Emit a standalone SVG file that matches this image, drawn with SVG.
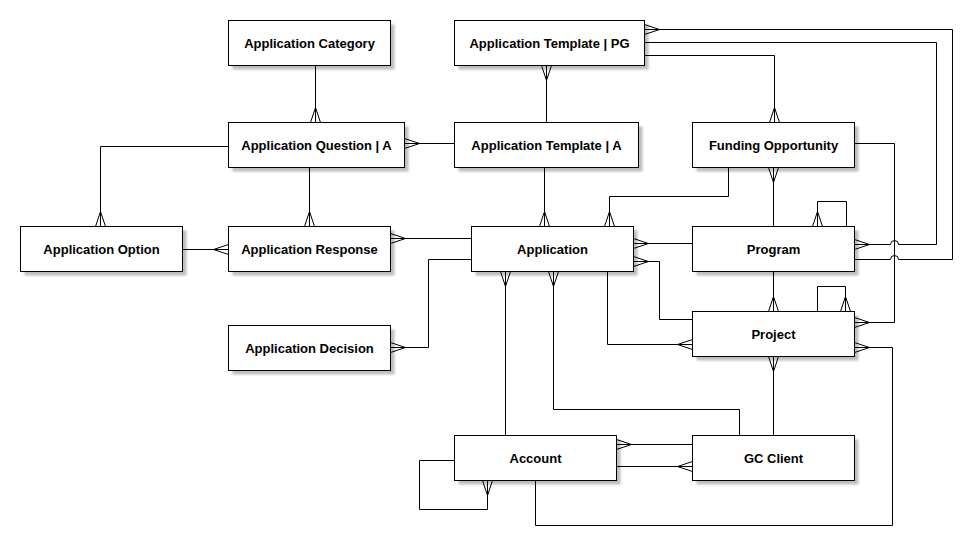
<svg xmlns="http://www.w3.org/2000/svg" width="978" height="546" viewBox="0 0 978 546">
  <style>
    .box rect.body { fill: #fff; stroke: #000; stroke-width: 1; }
    .box rect.shadow { fill: #bdbdbd; filter: url(#soft); }
    .box text { font-family: "Liberation Sans", Arial, sans-serif; font-size: 13px; font-weight: bold; fill: #000; text-anchor: middle; }
    #connectors path { fill: none; stroke: #000; stroke-width: 1; }
    #connectors path.many { marker-end: url(#crow); }
  </style>
  <defs>
    <filter id="soft" x="-10%" y="-20%" width="120%" height="140%">
      <feGaussianBlur stdDeviation="0.8"/>
    </filter>
    <!-- crow's foot: "many" end of a relationship -->
    <marker id="crow" markerUnits="userSpaceOnUse" viewBox="-16 -7 20 14" markerWidth="20" markerHeight="14" refX="0" refY="0" orient="auto" overflow="visible">
      <path d="M-15 0 L0 -5 M-15 0 L0 5" fill="none" stroke="#000" stroke-width="1"/>
    </marker>
  </defs>
  <rect width="978" height="546" fill="#fff"/>

  <!-- entities -->
  <g id="application-category" class="box">
    <rect class="shadow" x="232.5" y="24.5" width="162" height="45"/>
    <rect class="body" x="228.5" y="20.5" width="162" height="45"/>
    <text x="309.5" y="47.5">Application Category</text>
  </g>
  <g id="application-template-pg" class="box">
    <rect class="shadow" x="458.5" y="24.5" width="190" height="45"/>
    <rect class="body" x="454.5" y="20.5" width="190" height="45"/>
    <text x="549.5" y="47.5">Application Template | PG</text>
  </g>
  <g id="application-question-a" class="box">
    <rect class="shadow" x="232.5" y="126.5" width="176" height="45"/>
    <rect class="body" x="228.5" y="122.5" width="176" height="45"/>
    <text x="316.5" y="149.5">Application Question | A</text>
  </g>
  <g id="application-template-a" class="box">
    <rect class="shadow" x="458.5" y="126.5" width="184" height="45"/>
    <rect class="body" x="454.5" y="122.5" width="184" height="45"/>
    <text x="546.5" y="149.5">Application Template | A</text>
  </g>
  <g id="funding-opportunity" class="box">
    <rect class="shadow" x="696.5" y="126.5" width="162" height="45"/>
    <rect class="body" x="692.5" y="122.5" width="162" height="45"/>
    <text x="773.5" y="149.5">Funding Opportunity</text>
  </g>
  <g id="application-option" class="box">
    <rect class="shadow" x="24.5" y="230.5" width="162" height="45"/>
    <rect class="body" x="20.5" y="226.5" width="162" height="45"/>
    <text x="101.5" y="253.5">Application Option</text>
  </g>
  <g id="application-response" class="box">
    <rect class="shadow" x="232.5" y="230.5" width="162" height="45"/>
    <rect class="body" x="228.5" y="226.5" width="162" height="45"/>
    <text x="309.5" y="253.5">Application Response</text>
  </g>
  <g id="application" class="box">
    <rect class="shadow" x="475.5" y="230.5" width="162" height="45"/>
    <rect class="body" x="471.5" y="226.5" width="162" height="45"/>
    <text x="552.5" y="253.5">Application</text>
  </g>
  <g id="program" class="box">
    <rect class="shadow" x="696.5" y="230.5" width="162" height="45"/>
    <rect class="body" x="692.5" y="226.5" width="162" height="45"/>
    <text x="773.5" y="253.5">Program</text>
  </g>
  <g id="project" class="box">
    <rect class="shadow" x="696.5" y="315.5" width="162" height="45"/>
    <rect class="body" x="692.5" y="311.5" width="162" height="45"/>
    <text x="773.5" y="338.5">Project</text>
  </g>
  <g id="application-decision" class="box">
    <rect class="shadow" x="232.5" y="329.5" width="162" height="45"/>
    <rect class="body" x="228.5" y="325.5" width="162" height="45"/>
    <text x="309.5" y="352.5">Application Decision</text>
  </g>
  <g id="account" class="box">
    <rect class="shadow" x="458.5" y="439.5" width="162" height="45"/>
    <rect class="body" x="454.5" y="435.5" width="162" height="45"/>
    <text x="535.5" y="462.5">Account</text>
  </g>
  <g id="gc-client" class="box">
    <rect class="shadow" x="696.5" y="439.5" width="162" height="45"/>
    <rect class="body" x="692.5" y="435.5" width="162" height="45"/>
    <text x="773.5" y="462.5">GC Client</text>
  </g>

  <!-- relationships; every path ends at its "many" side where it has one -->
  <g id="connectors">
    <path class="many" d="M315.5 65.5 V122.5"/>
    <path class="many" d="M546.5 122.5 V65.5"/>
    <path class="many" d="M454.5 143.5 H404.5"/>
    <path class="many" d="M228.5 146.5 H100.5 V226.5"/>
    <path class="many" d="M309.5 167.5 V226.5"/>
    <path class="many" d="M182.5 249.5 H228.5"/>
    <path class="many" d="M471.5 238.5 H390.5"/>
    <path class="many" d="M471.5 259.5 H428.5 V347.5 H390.5"/>
    <path class="many" d="M544.5 167.5 V226.5"/>
    <path class="many" d="M728.5 167.5 V196.5 H609.5 V226.5"/>
    <path class="many" d="M854.5 259.5 H890.5 A4 4 0 0 1 898.5 259.5 H952.5 V29.5 H644.5"/>
    <path class="many" d="M644.5 42.5 H936.5 V244.5 H898.5 A4 4 0 0 0 890.5 244.5 H854.5"/>
    <path class="many" d="M644.5 55.5 H774.5 V122.5"/>
    <path class="many" d="M773.5 226.5 V167.5"/>
    <path class="many" d="M854.5 143.5 H894.5 V322.5 H854.5"/>
    <path class="many" d="M846.5 226.5 V201.5 H817.5 V226.5"/>
    <path class="many" d="M692.5 243.5 H633.5"/>
    <path class="many" d="M692.5 319.5 H659.5 V261.5 H633.5"/>
    <path class="many" d="M607.5 271.5 V344.5 H692.5"/>
    <path class="many" d="M773.5 271.5 V311.5"/>
    <path class="many" d="M817.5 311.5 V286.5 H845.5 V311.5"/>
    <path class="many" d="M773.5 435.5 V356.5"/>
    <path class="many" d="M535.5 480.5 V525.5 H892.5 V347.5 H854.5"/>
    <path class="many" d="M505.5 435.5 V271.5"/>
    <path class="many" d="M739.5 435.5 V409.5 H553.5 V271.5"/>
    <path class="many" d="M692.5 444.5 H616.5"/>
    <path class="many" d="M616.5 466.5 H692.5"/>
    <path class="many" d="M454.5 460.5 H419.5 V509.5 H487.5 V480.5"/>
  </g>
</svg>
